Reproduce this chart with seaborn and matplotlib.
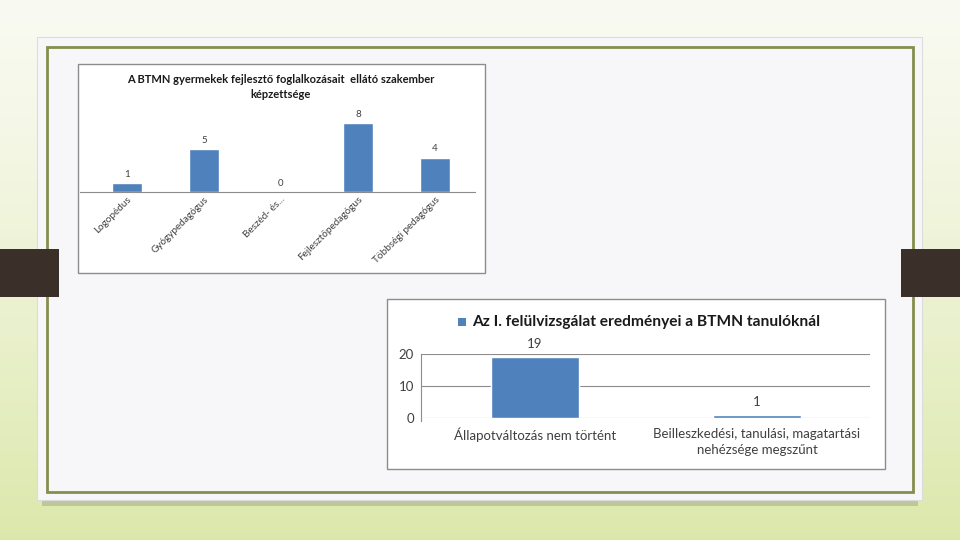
import numpy as np
import pandas as pd
import matplotlib
matplotlib.use("Agg")
import matplotlib.pyplot as plt
from matplotlib.patches import Rectangle
import seaborn as sns

# chart 1 data
szakember = ["Logopédus", "Gyógypedagógus", "Beszéd- és...", "Fejlesztőpedagógus", "Többségi pedagógus"]
szakember_db = [1, 5, 0, 8, 4]
title1 = "A BTMN gyermekek fejlesztő foglalkozásait  ellátó szakember\nképzettsége"

# chart 2 data
eredmeny = ["Állapotváltozás nem történt", "Beilleszkedési, tanulási, magatartási\nnehézsége megszűnt"]
eredmeny_db = [19, 1]
title2 = "Az I. felülvizsgálat eredményei a BTMN tanulóknál"

sns.set_style("white")
plt.rcParams['font.family'] = ['Lato', 'DejaVu Sans']

W, H = 960, 540
BLUE = "#4f81bd"

fig = plt.figure(figsize=(9.6, 5.4), dpi=100)


def px_rect(x0, y0, x1, y1, **kw):
    # rectangle in pixel coords (y from top)
    r = Rectangle((x0 / W, 1 - y1 / H), (x1 - x0) / W, (y1 - y0) / H,
                  transform=fig.transFigure, **kw)
    fig.patches.append(r)
    return r


def px_axes(x0, y0, x1, y1, **kw):
    return fig.add_axes([x0 / W, 1 - y1 / H, (x1 - x0) / W, (y1 - y0) / H], **kw)


# background gradient
bg = px_axes(0, 0, W, H, zorder=-10)
grad = np.linspace(0, 1, 256).reshape(-1, 1)
top = np.array(matplotlib.colors.to_rgb("#f9faf1"))
bot = np.array(matplotlib.colors.to_rgb("#dce8ab"))
img = top + (bot - top) * grad[..., None] ** 1.3
bg.imshow(img.reshape(256, 1, 3), aspect="auto", extent=[0, 1, 0, 1])
bg.set_axis_off()

# card with shadow
px_rect(42, 45, 918, 506, facecolor="#8f967a", alpha=0.4, edgecolor="none", zorder=0)
px_rect(37, 37, 922, 500, facecolor="#f7f7f9", edgecolor="#dcdcdc", lw=0.8, zorder=1)
px_rect(47, 47, 913, 492, facecolor="none", edgecolor="#868e4e", lw=2, zorder=2)

# dark side bars
px_rect(0, 249, 59, 297, facecolor="#3a3029", edgecolor="none", zorder=3)
px_rect(901, 249, 960, 297, facecolor="#3a3029", edgecolor="none", zorder=3)

# chart boxes
px_rect(78, 64, 485, 273, facecolor="white", edgecolor="#8c8c8c", lw=1, zorder=2)
px_rect(387, 299, 885, 469, facecolor="white", edgecolor="#8c8c8c", lw=1, zorder=2)

# ---- chart 1
df1 = pd.DataFrame({"kat": szakember, "db": szakember_db})
ax1 = px_axes(80, 110, 475, 192, zorder=5)
ax1.patch.set_alpha(0)
sns.barplot(data=df1, x="kat", y="db", color=BLUE, saturation=1, width=0.39, ax=ax1)
ax1.set_xlim(-0.61, 4.52)
ax1.set_ylim(0, 9.53)
for i, v in enumerate(szakember_db):
    ax1.text(i, v + 0.5, str(v), ha="center", va="bottom", fontsize=7, color="#404040")
ax1.set_yticks([])
ax1.set_xlabel("")
ax1.set_ylabel("")
for s in ["top", "left", "right"]:
    ax1.spines[s].set_visible(False)
ax1.spines["bottom"].set_color("#8c8c8c")
ax1.spines["bottom"].set_linewidth(0.8)
ax1.tick_params(axis="x", length=0, pad=2)
ax1.set_xticks(range(len(szakember)))
ax1.set_xticklabels(szakember, rotation=45, ha="right", rotation_mode="anchor",
                    fontsize=7.2, color="#404040")
fig.text(281 / W, 1 - 87 / H, title1, ha="center", va="center", fontsize=8,
         fontweight="bold", color="#1a1a1a", linespacing=1.35, zorder=6)

# ---- chart 2
df2 = pd.DataFrame({"kat": eredmeny, "db": eredmeny_db})
ax2 = px_axes(421, 354, 870, 418, zorder=5)
ax2.patch.set_alpha(0)
sns.barplot(data=df2, x="kat", y="db", color=BLUE, saturation=1, width=0.4, ax=ax2, zorder=3)
ax2.set_xlim(-0.514, 1.509)
ax2.set_ylim(0, 20)
ax2.set_yticks([0, 10, 20])
ax2.yaxis.grid(True, color="#8c8c8c", lw=0.8)
ax2.set_axisbelow(True)
for i, v in enumerate(eredmeny_db):
    ax2.text(i, v + 2.2, str(v), ha="center", va="bottom", fontsize=9.5, color="#404040")
ax2.set_xlabel("")
ax2.set_ylabel("")
for s in ["top", "right", "bottom"]:
    ax2.spines[s].set_visible(False)
ax2.spines["left"].set_color("#8c8c8c")
ax2.spines["left"].set_linewidth(0.8)
ax2.spines["left"].set_bounds(-0.8, 20)
ax2.tick_params(axis="y", length=0, labelsize=9.5, labelcolor="#404040", pad=5)
ax2.tick_params(axis="x", length=0, labelsize=9.5, labelcolor="#404040", pad=7)
ax2.set_xticks(range(len(eredmeny)))
ax2.set_xticklabels(eredmeny, linespacing=1.4)

# legend-like title
px_rect(458, 318, 466, 326, facecolor=BLUE, edgecolor="none", zorder=4)
fig.text(472 / W, 1 - 322 / H, title2, ha="left", va="center", fontsize=11.2,
         fontweight="bold", color="#1a1a1a", zorder=6)

fig.savefig("out.png", dpi=100)
